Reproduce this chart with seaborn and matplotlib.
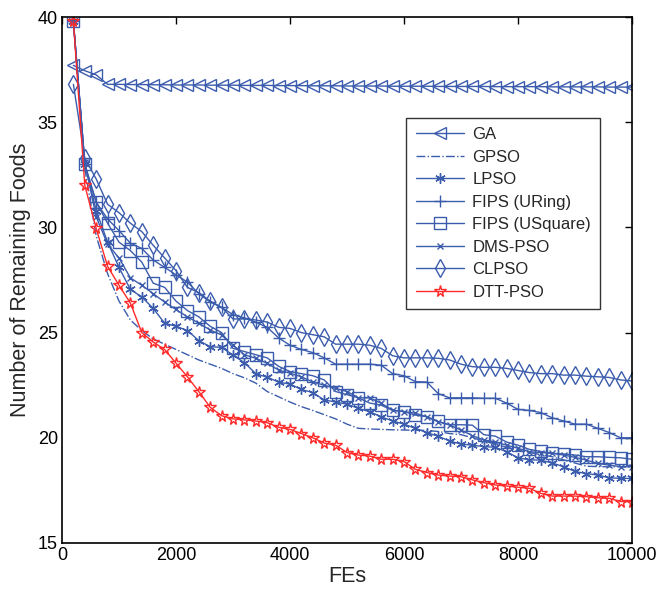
import numpy as np
import pandas as pd
import matplotlib
matplotlib.use("Agg")
import matplotlib.pyplot as plt
import seaborn as sns

# FEs sampled every 200 evaluations
fes = list(range(200, 10001, 200))

ga = [37.7, 37.45, 37.25, 36.8, 36.8, 36.79, 36.79, 36.78, 36.78, 36.77,
      36.77, 36.77, 36.76, 36.76, 36.76, 36.75, 36.75, 36.75, 36.74, 36.74,
      36.74, 36.73, 36.73, 36.73, 36.72, 36.72, 36.72, 36.72, 36.71, 36.71,
      36.71, 36.71, 36.7, 36.7, 36.7, 36.7, 36.7, 36.69, 36.69, 36.69,
      36.69, 36.69, 36.68, 36.68, 36.68, 36.68, 36.68, 36.67, 36.67, 36.67]

gpso = [39.8, 32.8, 29.6, 27.8, 26.5, 25.6, 25.1, 24.7, 24.45, 24.2,
        23.95, 23.7, 23.5, 23.3, 23.05, 22.85, 22.6, 22.2, 21.95, 21.7,
        21.48, 21.3, 21.1, 20.9, 20.65, 20.45, 20.42, 20.4, 20.38, 20.37,
        20.36, 20.35, 20.3, 20.2, 20.15, 20.0, 19.85, 19.7, 19.55, 19.4,
        19.3, 19.2, 19.1, 18.95, 18.8, 18.65, 18.63, 18.62, 18.62, 18.6]

lpso = [39.8, 33.0, 30.8, 29.3, 28.1, 27.05, 26.7, 26.15, 25.45, 25.3,
        25.1, 24.62, 24.33, 24.3, 23.93, 23.57, 23.05, 22.88, 22.65, 22.55,
        22.3, 22.15, 21.8, 21.7, 21.6, 21.4, 21.24, 21.0, 20.8, 20.65,
        20.45, 20.25, 20.07, 19.85, 19.7, 19.65, 19.58, 19.55, 19.34, 19.05,
        18.95, 18.94, 18.8, 18.63, 18.4, 18.3, 18.23, 18.1, 18.07, 18.07]

fips_uring = [39.8, 33.0, 31.2, 30.4, 29.85, 29.25, 29.0, 28.45, 28.1, 27.75,
              27.4, 26.85, 26.45, 26.2, 25.85, 25.7, 25.5, 25.25, 24.75, 24.4,
              24.2, 24.05, 23.8, 23.5, 23.5, 23.5, 23.5, 23.45, 23.05, 22.95,
              22.67, 22.65, 22.1, 21.9, 21.9, 21.9, 21.88, 21.88, 21.65, 21.35,
              21.3, 21.2, 20.95, 20.8, 20.65, 20.65, 20.45, 20.25, 20.0, 20.0]

fips_usquare = [39.8, 33.0, 31.2, 30.2, 29.3, 28.9, 28.35, 27.35, 27.15, 26.5,
                26.05, 25.75, 25.3, 25.0, 24.25, 24.1, 23.95, 23.8, 23.4, 23.15,
                23.05, 22.95, 22.75, 22.2, 22.05, 21.9, 21.65, 21.55, 21.3, 21.25,
                21.08, 21.0, 20.78, 20.62, 20.62, 20.6, 20.15, 20.08, 19.8, 19.65,
                19.45, 19.35, 19.27, 19.23, 19.18, 19.1, 19.1, 19.07, 19.05, 18.98]

dms_pso = [39.8, 33.1, 30.5, 29.2, 28.55, 27.6, 27.25, 26.85, 26.45, 26.1,
           25.75, 25.45, 25.12, 24.89, 24.41, 23.95, 23.78, 23.54, 23.22, 23.07,
           22.9, 22.65, 22.5, 22.35, 22.2, 21.9, 21.9, 21.64, 21.32, 21.24,
           21.17, 21.0, 20.76, 20.61, 20.37, 20.1, 19.9, 19.8, 19.65, 19.5,
           19.34, 19.3, 19.26, 19.18, 19.07, 18.94, 18.78, 18.7, 18.63, 18.62]

clpso = [36.8, 33.3, 32.3, 31.1, 30.7, 30.2, 29.8, 29.15, 28.55, 27.95,
         27.15, 26.9, 26.5, 26.2, 25.65, 25.65, 25.6, 25.5, 25.25, 25.2,
         25.0, 24.9, 24.8, 24.45, 24.45, 24.45, 24.4, 24.25, 23.9, 23.8,
         23.8, 23.8, 23.78, 23.7, 23.5, 23.38, 23.35, 23.35, 23.3, 23.2,
         23.1, 23.05, 23.05, 22.98, 22.98, 22.93, 22.9, 22.87, 22.75, 22.7]

dtt_pso = [39.8, 32.0, 29.95, 28.15, 27.25, 26.4, 25.0, 24.55, 24.2, 23.55,
           22.9, 22.2, 21.45, 21.05, 20.9, 20.85, 20.8, 20.72, 20.5, 20.4,
           20.2, 20.0, 19.75, 19.65, 19.3, 19.18, 19.13, 18.98, 18.98, 18.87,
           18.5, 18.35, 18.23, 18.18, 18.15, 18.0, 17.87, 17.76, 17.71, 17.65,
           17.6, 17.36, 17.23, 17.23, 17.23, 17.2, 17.15, 17.12, 16.97, 16.96]

names = ["GA", "GPSO", "LPSO", "FIPS (URing)", "FIPS (USquare)",
         "DMS-PSO", "CLPSO", "DTT-PSO"]
series = [ga, gpso, lpso, fips_uring, fips_usquare, dms_pso, clpso, dtt_pso]

blue = "#3b5cad"
red = "#ff2a2a"
styles = {
    "GA": dict(color=blue, marker="<", markersize=8.5, linestyle="-"),
    "GPSO": dict(color=blue, marker=None, linestyle="-."),
    "LPSO": dict(color=blue, marker=(6, 2, 0), markersize=7.5, linestyle="-"),
    "FIPS (URing)": dict(color=blue, marker="+", markersize=9, linestyle="-"),
    "FIPS (USquare)": dict(color=blue, marker="s", markersize=8, linestyle="-"),
    "DMS-PSO": dict(color=blue, marker="x", markersize=4, linestyle="-"),
    "CLPSO": dict(color=blue, marker="d", markersize=9, linestyle="-"),
    "DTT-PSO": dict(color=red, marker="*", markersize=8.5, linestyle="-"),
}

df = pd.DataFrame({"FEs": fes})
for name, vals in zip(names, series):
    df[name] = vals

sns.set_style("white")
plt.rcParams["font.family"] = ["Liberation Sans", "DejaVu Sans"]

fig = plt.figure(figsize=(6.58, 5.89), dpi=100)
ax = fig.add_axes([0.0942, 0.0781, 0.8663, 0.893])

for name in names:
    st = styles[name]
    kw = dict(color=st["color"], linestyle=st["linestyle"], linewidth=1.0)
    if st["marker"] is not None:
        kw.update(marker=st["marker"], markersize=st["markersize"],
                  markerfacecolor="none", markeredgecolor=st["color"],
                  markeredgewidth=1.0)
    sns.lineplot(data=df, x="FEs", y=name, ax=ax, label=name, **kw)

ax.set_xlim(0, 10000)
ax.set_ylim(15, 40)
ax.set_xticks([0, 2000, 4000, 6000, 8000, 10000])
ax.set_yticks([15, 20, 25, 30, 35, 40])
ax.tick_params(direction="in", length=5, width=1, top=True, right=True,
               labelsize=13, colors="black", pad=3)
for sp in ax.spines.values():
    sp.set_color("black")
    sp.set_linewidth(1.2)
ax.set_xlabel("FEs", fontsize=15.5, labelpad=1)
ax.set_ylabel("Number of Remaining Foods", fontsize=15.5, labelpad=5)

leg = ax.legend(loc="upper right", bbox_to_anchor=(0.944, 0.808),
                fontsize=12, frameon=True, fancybox=False, handlelength=2.9,
                labelspacing=0.45, borderpad=0.55, handletextpad=0.5,
                borderaxespad=0.0)
leg.get_frame().set_edgecolor("black")
leg.get_frame().set_linewidth(1.0)

fig.savefig("out.png", dpi=100)
